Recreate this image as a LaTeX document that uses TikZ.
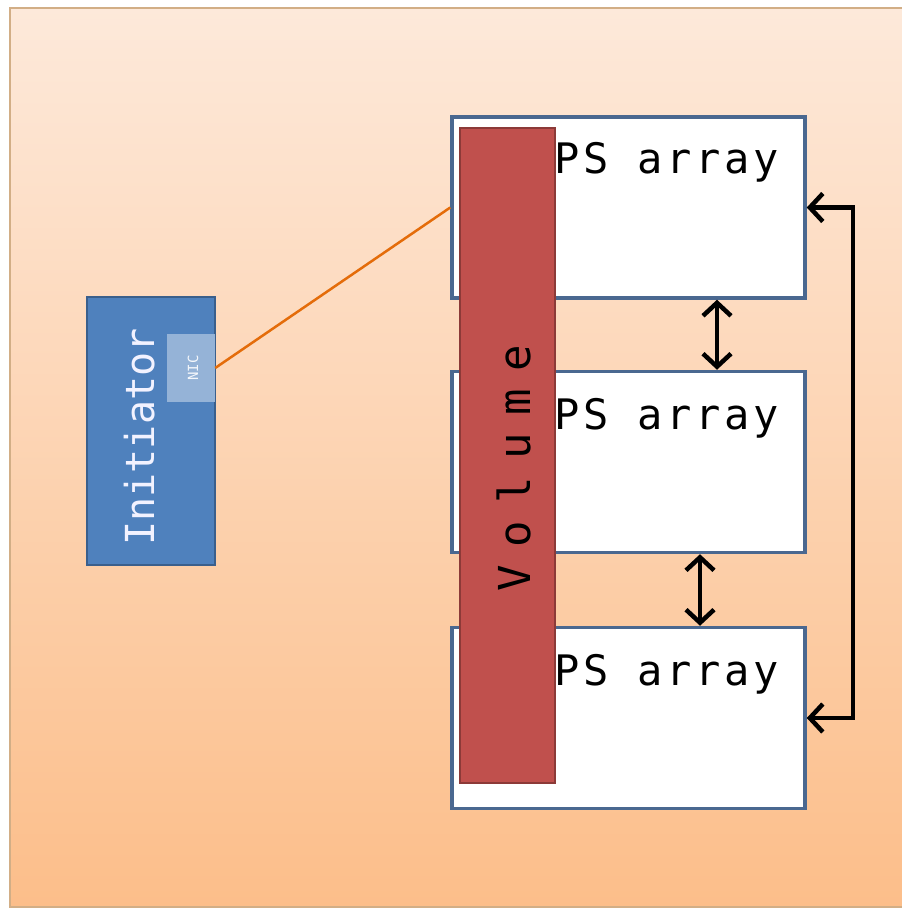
\documentclass[tikz,border=0pt]{standalone}
\usepackage{fontspec}
\setmonofont{DejaVu Sans Mono}
\usetikzlibrary{arrows.meta}
\definecolor{bgtop}{HTML}{FDE9DA}
\definecolor{bgbot}{HTML}{FCBE8A}
\definecolor{bgedge}{HTML}{D2AE86}
\definecolor{psedge}{HTML}{4A6890}
\definecolor{volfill}{HTML}{C0504D}
\definecolor{voledge}{HTML}{8C3A38}
\definecolor{inifill}{HTML}{4F81BD}
\definecolor{iniedge}{HTML}{3A5F8C}
\definecolor{nicfill}{HTML}{95B3D7}
\definecolor{linkorange}{HTML}{E46C0A}
\tikzset{
  psbox/.style={draw=psedge,fill=white,line width=3.5pt,minimum width=353pt,minimum height=181pt,inner sep=0pt},
  pslabel/.style={font=\ttfamily\fontsize{42}{50}\selectfont\addfontfeature{LetterSpace=9},inner sep=0pt,anchor=base west},
  volbox/.style={draw=voledge,fill=volfill,line width=2pt,minimum width=95pt,minimum height=655pt,inner sep=0pt},
  vollabel/.style={font=\ttfamily\fontsize{44}{50}\selectfont\addfontfeature{LetterSpace=40},inner sep=0pt,rotate=90},
  inibox/.style={draw=iniedge,fill=inifill,line width=2pt,minimum width=128pt,minimum height=268pt,inner sep=0pt},
  inilabel/.style={font=\ttfamily\fontsize{40}{48}\selectfont,text=white!95!blue,inner sep=0pt,rotate=90},
  nicbox/.style={fill=nicfill,minimum width=48pt,minimum height=68pt,inner sep=0pt},
  niclabel/.style={font=\ttfamily\fontsize{14}{16}\selectfont,text=white!90!nicfill,inner sep=0pt,rotate=90},
  biarrow/.style={line width=4.5pt,{Straight Barb[length=13pt,width=28pt]}-{Straight Barb[length=13pt,width=28pt]}},
  link/.style={draw=linkorange,line width=2.5pt}
}
\begin{document}
\begin{tikzpicture}[x=1pt,y=-1pt]
\useasboundingbox (0,0) rectangle (901,909);
\shade[top color=bgtop,bottom color=bgbot] (10,8) rectangle (903,907);
\draw[bgedge,line width=2pt] (903,8) -- (10,8) -- (10,907) -- (903,907);
% PS arrays
\node[psbox] (ps1) at (628.5,207.5) {};
\node[psbox] (ps2) at (628.5,462) {};
\node[psbox] (ps3) at (628.5,718) {};
\node[pslabel] (t1) at (554,174) {PS array};
\node[pslabel] (t2) at (554,429) {PS array};
\node[pslabel] (t3) at (554,685) {PS array};
% Volume
\node[volbox] (vol) at (507.5,455.5) {};
\node[vollabel] (vt) at (514,468) {Volume};
% Initiator
\node[inibox] (ini) at (151,431) {};
\node[inilabel] (it) at (140,437) {Initiator};
\node[nicbox] (nic) at (191,368) {};
\node[niclabel] (nt) at (193,368) {NIC};
% links
\draw[link] (nic.east) -- (ps1.west);
\coordinate (a1) at (717,0);
\coordinate (a2) at (700,0);
\coordinate (rx) at (853,0);
\draw[biarrow] (ps1.south -| a1) -- (ps2.north -| a1);
\draw[biarrow] (ps2.south -| a2) -- (ps3.north -| a2);
\draw[biarrow] (ps1.east) -- (ps1.east -| rx) -- (ps3.east -| rx) -- (ps3.east);
\end{tikzpicture}
\end{document}
